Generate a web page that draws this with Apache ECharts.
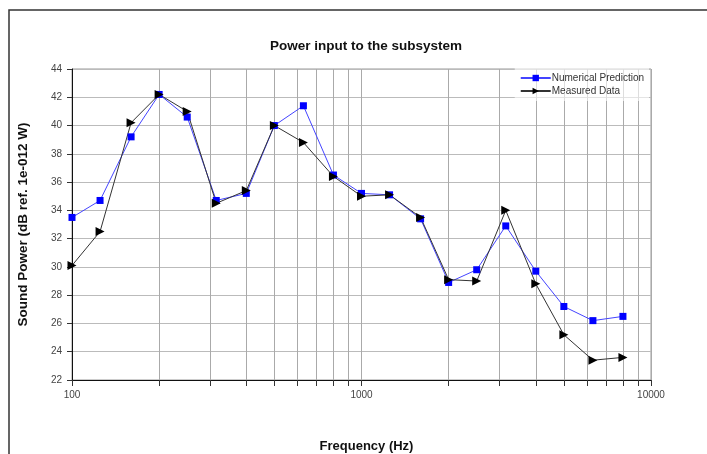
<!DOCTYPE html>
<html>
<head>
<meta charset="utf-8">
<script src="https://cdn.jsdelivr.net/npm/echarts@6/dist/echarts.min.js"></script>
<style>
  html, body { margin: 0; padding: 0; background: #fff; }
  #box { width: 707px; height: 454px; }
</style>
</head>
<body>
<div id="box"></div>
<script>
// 1/3 octave band centre frequencies
const freqs = [100, 125, 160, 200, 250, 315, 400, 500, 630, 800, 1000, 1250, 1600, 2000, 2500, 3150, 4000, 5000, 6300, 8000];
const predicted = [33.5, 34.7, 39.2, 42.2, 40.6, 34.7, 35.2, 40.0, 41.4, 36.5, 35.2, 35.1, 33.4, 28.9, 29.8, 32.9, 29.7, 27.2, 26.2, 26.5];
const measured = [30.1, 32.5, 40.2, 42.2, 41.0, 34.5, 35.4, 40.0, 38.8, 36.4, 35.0, 35.1, 33.5, 29.1, 29.0, 34.0, 28.8, 25.2, 23.4, 23.6];
// grid / tick positions on the log axis
const xTicks = [100, 200, 300, 400, 500, 600, 700, 800, 900, 1000, 2000, 3000, 4000, 5000, 6000, 7000, 8000, 9000, 10000];
const xLabels = [100, 1000, 10000];

const font = "'Liberation Sans', Arial, sans-serif";

function pairs(ys) {
  return freqs.map((f, i) => [f, ys[i]]);
}

let option = {
  animation: false,
  backgroundColor: "#fff",
  title: {
    text: "Power input to the subsystem",
    left: 361,
    textAlign: "center",
    top: 34,
    textStyle: { fontFamily: font, fontSize: 13.5, fontWeight: "bold", color: "#111" }
  },
  legend: {
    right: 58,
    top: 68,
    orient: "vertical",
    itemGap: 3,
    itemWidth: 30,
    itemHeight: 8,
    backgroundColor: "rgba(255,255,255,0.6)",
    textStyle: { fontFamily: font, fontSize: 10, color: "#333", padding: [0, 0, 0, -4] },
    data: ["Numerical Prediction", "Measured Data"]
  },
  grid: {
    left: 72, right: 56, top: 69, bottom: 74,
    outerBoundsMode: "none",
    show: true, borderColor: "#999", borderWidth: 1
  },
  xAxis: {
    type: "log",
    logBase: 10,
    min: 100,
    max: 10000,
    name: "Frequency (Hz)",
    nameLocation: "middle",
    nameGap: 60,
    nameTextStyle: { fontFamily: font, fontSize: 13, fontWeight: "bold", color: "#111", padding: [0, 0, 0, 10] },
    axisLine: { show: true, lineStyle: { color: "#111", width: 1 } },
    axisTick: { show: true, length: 6, customValues: xTicks, lineStyle: { color: "#333" } },
    axisLabel: {
      customValues: xLabels,
      formatter: v => String(Math.round(v)),
      fontFamily: font, fontSize: 10, color: "#444", margin: 10
    },
    splitLine: { show: true, lineStyle: { color: "#aaa", width: 1 } }
  },
  yAxis: {
    type: "value",
    min: 22,
    max: 44,
    interval: 2,
    name: "Sound Power (dB ref. 1e-012 W)",
    nameLocation: "middle",
    nameGap: 42,
    nameTextStyle: { fontFamily: font, fontSize: 13.5, fontWeight: "bold", color: "#111" },
    axisLine: { show: true, lineStyle: { color: "#111", width: 1 } },
    axisTick: { show: true, length: 5, lineStyle: { color: "#333" } },
    axisLabel: { fontFamily: font, fontSize: 10, color: "#444", margin: 10 },
    splitLine: { show: true, lineStyle: { color: "#bbb", width: 1 } }
  },
  graphic: [
    {
      type: "rect",
      shape: { x: 9, y: 10, width: 720, height: 470 },
      style: { fill: "none", stroke: "#333", lineWidth: 1.5 },
      silent: true
    }
  ],
  series: [
    {
      name: "Numerical Prediction",
      type: "line",
      data: pairs(predicted),
      symbol: "rect",
      symbolSize: 7,
      color: "#0000ff",
      lineStyle: { color: "#4444ff", width: 1 },
      itemStyle: { color: "#0000ff" }
    },
    {
      name: "Measured Data",
      type: "line",
      data: pairs(measured),
      symbol: "triangle",
      symbolRotate: -90,
      symbolSize: 9,
      color: "#000",
      lineStyle: { color: "#333", width: 1 },
      itemStyle: { color: "#000" }
    }
  ]
};

echarts.init(document.getElementById("box")).setOption(option);
</script>
</body>
</html>
